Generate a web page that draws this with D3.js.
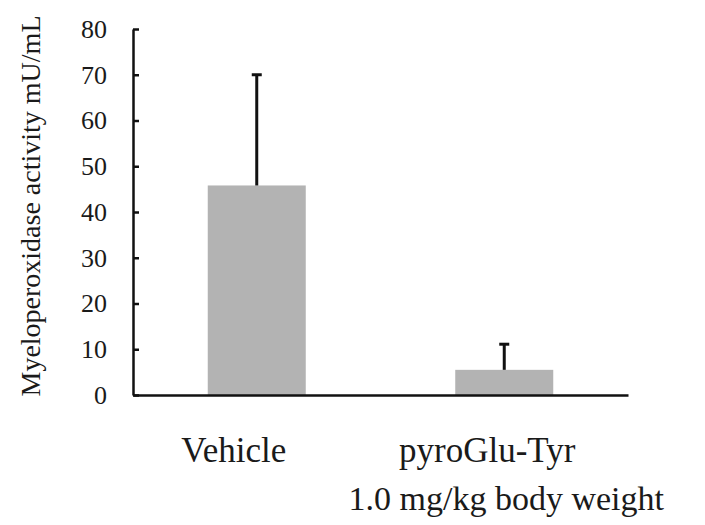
<!DOCTYPE html>
<html>
<head>
<meta charset="utf-8">
<script src="https://cdn.jsdelivr.net/npm/d3@7"></script>
<style>
html,body{margin:0;padding:0;background:#fff;}
svg{display:block;}
text{font-family:"Liberation Serif","Times New Roman",serif;fill:#1a1a1a;}
</style>
</head>
<body>
<svg id="chart" width="705" height="525"></svg>
<script>
const categories = ["Vehicle", "pyroGlu-Tyr"];
const categoryLines = [["Vehicle"], ["pyroGlu-Tyr", "1.0 mg/kg body weight"]];
const means = [45.8, 5.5];
const errors = [24.2, 5.6];
const yTicks = [0, 10, 20, 30, 40, 50, 60, 70, 80];
const yLabel = "Myeloperoxidase activity mU/mL";

(function () {
const svg = d3.select("#chart");
const mLeft = 133, mRight = 628, mTop = 29, mBottom = 395;
const serif = '"Liberation Serif","Times New Roman",serif';

const x = d3.scaleBand().domain(categories).range([mLeft, mRight]).padding(0);
const y = d3.scaleLinear().domain([0, 80]).range([mBottom, mTop]);
const barW = x.bandwidth() * 0.396;

// bars
svg.append("g").selectAll("rect").data(categories).join("rect")
  .attr("x", d => x(d) + x.bandwidth() / 2 - barW / 2)
  .attr("y", (d, i) => y(means[i]))
  .attr("width", barW)
  .attr("height", (d, i) => y(0) - y(means[i]))
  .attr("fill", "#b3b3b3");

// error bars
const eb = svg.append("g").attr("stroke", "#111");
categories.forEach((c, i) => {
  const cx = x(c) + x.bandwidth() / 2;
  eb.append("line").attr("x1", cx).attr("x2", cx)
    .attr("y1", y(means[i])).attr("y2", y(means[i] + errors[i]))
    .attr("stroke-width", 3);
  eb.append("line").attr("x1", cx - 5).attr("x2", cx + 5)
    .attr("y1", y(means[i] + errors[i])).attr("y2", y(means[i] + errors[i]))
    .attr("stroke-width", 3);
});

// y axis
const yAxis = d3.axisLeft(y).tickValues(yTicks).tickSizeInner(-6).tickSizeOuter(0).tickPadding(26);
const gy = svg.append("g").attr("transform", `translate(${mLeft},0)`).call(yAxis)
  .attr("font-family", serif);
gy.select(".domain").attr("stroke", "#111").attr("stroke-width", 2.5);
gy.selectAll(".tick line").attr("stroke", "#111").attr("stroke-width", 2.5);
gy.selectAll(".tick text").style("font-family", serif).style("font-size", "26px").attr("fill", "#1a1a1a");

// x axis
const xAxis = d3.axisBottom(x).tickSize(0).tickFormat("");
const gx = svg.append("g").attr("transform", `translate(0,${mBottom})`).call(xAxis);
gx.select(".domain").attr("stroke", "#111").attr("stroke-width", 2.5);

// category labels
const lineShift = [[-23], [-17, 2]];
const lineSize = [[35], [35, 34]];
categories.forEach((c, i) => {
  const cx = x(c) + x.bandwidth() / 2;
  categoryLines[i].forEach((line, j) => {
    svg.append("text").attr("text-anchor", "middle")
      .style("font-family", serif)
      .style("font-size", lineSize[i][j] + "px")
      .attr("x", cx + lineShift[i][j]).attr("y", 462 + j * 48).text(line);
  });
});

// y label
svg.append("text")
  .attr("transform", `translate(40,206) rotate(-90)`)
  .attr("text-anchor", "middle")
  .style("font-family", serif)
  .style("font-size", "28px")
  .text(yLabel);
})();
</script>
</body>
</html>
